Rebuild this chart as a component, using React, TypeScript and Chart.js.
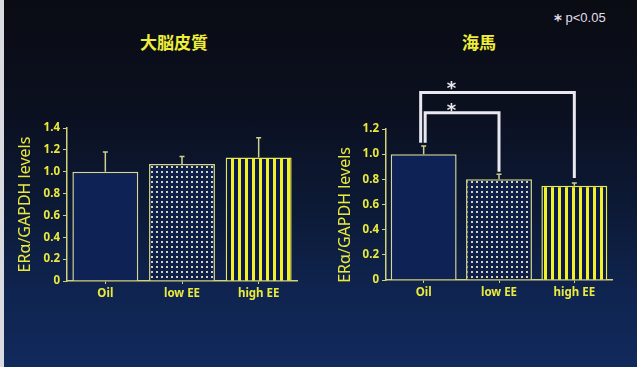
import React, { useEffect, useRef } from 'react';
import { Chart, registerables } from 'chart.js';

Chart.register(...registerables);

// Treatment groups shared by both panels
const groups = ['Oil', 'low EE', 'high EE'];

// 大脳皮質 (cerebral cortex): mean and upper SE per group
const cortexMeans = [1.0, 1.07, 1.13];
const cortexErrors = [0.18, 0.07, 0.18];
const cortexMax = 1.4;

// 海馬 (hippocampus): mean and upper SE per group
const hippoMeans = [1.0, 0.8, 0.75];
const hippoErrors = [0.065, 0.04, 0.02];
const hippoMax = 1.2;

// Significance brackets in the hippocampus panel (group indices and y-values)
const bracketFrom = [0, 0];
const bracketTo = [2, 1];
const bracketTop = [1.49, 1.33];
const bracketFromEnd = [1.09, 1.09];
const bracketToEnd = [0.81, 0.86];
const starLevels = [1.56, 1.39];
const starGroupPos = 0.37;

const tickStep = 0.2;
const yTitle = 'ERα/GAPDH levels';
const cortexTitle = '大脳皮質';
const hippoTitle = '海馬';
const noteText = 'p<0.05';

const YELLOW = '#eaea3e';
const AXIS = '#d2d27a';
const NAVY = '#0e2256';
const WHITE_LINE = '#e9e8ef';

function dotPattern(ctx: CanvasRenderingContext2D) {
  const c = document.createElement('canvas');
  c.width = 5;
  c.height = 5;
  const g = c.getContext('2d')!;
  g.fillStyle = '#0f1f4c';
  g.fillRect(0, 0, 5, 5);
  g.fillStyle = '#d4d4b0';
  g.fillRect(1, 1, 2, 2);
  return ctx.createPattern(c, 'repeat')!;
}

function stripePattern(ctx: CanvasRenderingContext2D) {
  const c = document.createElement('canvas');
  c.width = 7;
  c.height = 4;
  const g = c.getContext('2d')!;
  g.fillStyle = '#0b1a4a';
  g.fillRect(0, 0, 7, 4);
  g.fillStyle = '#f2f026';
  g.fillRect(0, 0, 3, 4);
  return ctx.createPattern(c, 'repeat')!;
}

// Upward-only error bars with a short cap
const errorBarPlugin = {
  id: 'errorBars',
  afterDatasetsDraw(chart: any, _args: any, opts: any) {
    const { ctx, scales } = chart;
    const y = scales.y;
    const meta = chart.getDatasetMeta(0);
    const values = chart.data.datasets[0].data as number[];
    ctx.save();
    ctx.strokeStyle = opts.color;
    ctx.lineWidth = opts.width;
    (opts.errors as number[]).forEach((err, i) => {
      const cx = meta.data[i].x;
      const y0 = y.getPixelForValue(values[i]);
      const y1 = y.getPixelForValue(values[i] + err);
      ctx.beginPath();
      ctx.moveTo(cx, y0);
      ctx.lineTo(cx, y1);
      ctx.moveTo(cx - opts.cap / 2, y1);
      ctx.lineTo(cx + opts.cap / 2, y1);
      ctx.stroke();
    });
    ctx.restore();
  },
};

// Comparison brackets with asterisks above the bars
const bracketPlugin = {
  id: 'brackets',
  afterDraw(chart: any, _args: any, opts: any) {
    const { ctx, scales } = chart;
    const { x, y } = scales;
    ctx.save();
    ctx.strokeStyle = WHITE_LINE;
    ctx.fillStyle = WHITE_LINE;
    ctx.lineWidth = 3;
    ctx.lineJoin = 'miter';
    ctx.lineCap = 'butt';
    ctx.font = 'bold 18px "DejaVu Sans"';
    ctx.textAlign = 'center';
    ctx.textBaseline = 'alphabetic';
    bracketFrom.forEach((f, i) => {
      const x1 = x.getPixelForValue(f) + opts.legNudge[i];
      const x2 = x.getPixelForValue(bracketTo[i]);
      const yTop = y.getPixelForValue(bracketTop[i]);
      ctx.beginPath();
      ctx.moveTo(x1, y.getPixelForValue(bracketFromEnd[i]));
      ctx.lineTo(x1, yTop);
      ctx.lineTo(x2, yTop);
      ctx.lineTo(x2, y.getPixelForValue(bracketToEnd[i]));
      ctx.stroke();
      ctx.fillText('*', x.getPixelForValue(starGroupPos), y.getPixelForValue(starLevels[i]) + 10.5);
    });
    ctx.restore();
  },
};

function makeConfig(
  ctx: CanvasRenderingContext2D,
  means: number[],
  errors: number[],
  max: number,
  padding: any,
  axisWidth: number,
  barPct: number,
  title: string,
  extraPlugins: any[],
  extraOptions: any
): any {
  const family = '"Noto Sans", "DejaVu Sans", sans-serif';
  return {
    type: 'bar',
    data: {
      labels: groups,
      datasets: [
        {
          data: means,
          backgroundColor: [NAVY, dotPattern(ctx), stripePattern(ctx)],
          borderColor: ['#d6d69a', '#d6d68a', '#e8e850'],
          borderWidth: 1.5,
          barPercentage: barPct,
          categoryPercentage: 1,
        },
      ],
    },
    plugins: [errorBarPlugin, ...extraPlugins],
    options: {
      animation: false,
      responsive: false,
      devicePixelRatio: 1,
      layout: { padding },
      plugins: {
        legend: { display: false },
        tooltip: { enabled: false },
        title: { display: false },
        errorBars: { errors, color: '#cfcf8e', width: 1.5, cap: 5 },
        ...extraOptions,
      },
      scales: {
        x: {
          grid: {
            display: true,
            drawOnChartArea: false,
            drawTicks: true,
            tickLength: 3,
            color: AXIS,
            offset: false,
          },
          border: { display: true, color: AXIS, width: 1.5 },
          ticks: { color: YELLOW, font: { family, size: 11.5, weight: 'bold' }, padding: 3 },
          afterFit: (s: any) => {
            s.height = 30;
          },
        },
        y: {
          min: 0,
          max,
          grid: { display: true, drawOnChartArea: false, drawTicks: true, tickLength: 4, color: AXIS },
          border: { display: true, color: AXIS, width: 1.5 },
          ticks: {
            stepSize: tickStep,
            color: YELLOW,
            font: { family, size: 11.5, weight: 'bold' },
            padding: 3,
            callback: (v: any) => (Number(v) === 0 ? '0' : Number(v).toFixed(1)),
          },
          title: {
            display: true,
            text: title,
            color: YELLOW,
            font: { family, size: 16 },
            padding: { top: 16, bottom: 0 },
          },
          afterFit: (s: any) => {
            s.width = axisWidth;
          },
        },
      },
    },
  };
}

export default function App() {
  const leftRef = useRef<HTMLCanvasElement>(null);
  const rightRef = useRef<HTMLCanvasElement>(null);

  useEffect(() => {
    document.body.style.margin = '0';
    const lctx = leftRef.current!.getContext('2d')!;
    const rctx = rightRef.current!.getContext('2d')!;
    const left = new Chart(
      lctx,
      makeConfig(lctx, cortexMeans, cortexErrors, cortexMax, { left: 0, right: 23, top: 128, bottom: 56 }, 67, 0.86, yTitle, [], {})
    );
    const right = new Chart(
      rctx,
      makeConfig(
        rctx,
        hippoMeans,
        hippoErrors,
        hippoMax,
        { left: 0, right: 25, top: 129, bottom: 57 },
        66,
        0.875,
        yTitle + '     ',
        [bracketPlugin],
        { brackets: { legNudge: [-3, 1.5] } }
      )
    );
    return () => {
      left.destroy();
      right.destroy();
    };
  }, []);

  const titleStyle: React.CSSProperties = {
    position: 'absolute',
    top: 30,
    width: 120,
    textAlign: 'center',
    color: '#eeee3a',
    fontFamily: '"Noto Sans CJK JP", sans-serif',
    fontWeight: 700,
    fontSize: 17,
    lineHeight: '24px',
  };

  return (
    <div
      style={{
        position: 'fixed',
        left: 0,
        top: 0,
        width: 637,
        height: 367,
        overflow: 'hidden',
        background:
          'linear-gradient(180deg, #0a0c13 0%, #0b1020 30%, #0c1934 55%, #0f2450 80%, #112a5c 100%)',
      }}
    >
      <div style={{ position: 'absolute', left: 0, top: 0, width: 4, height: 367, background: '#d9dbe0' }} />
      <div style={{ ...titleStyle, left: 174 - 60 }}>{cortexTitle}</div>
      <div style={{ ...titleStyle, left: 479 - 60 }}>{hippoTitle}</div>
      <div
        style={{
          position: 'absolute',
          left: 554,
          top: 8,
          color: '#e2dfea',
          fontFamily: '"Liberation Sans", Arial, sans-serif',
          fontSize: 13,
          lineHeight: '18px',
          whiteSpace: 'nowrap',
        }}
      >
        <span style={{ fontFamily: '"DejaVu Sans"', fontWeight: 700, fontSize: 15, position: 'relative', top: 4 }}>*</span>{' '}
        {noteText}
      </div>
      <canvas ref={leftRef} width={320} height={367} style={{ position: 'absolute', left: 0, top: 0 }} />
      <canvas ref={rightRef} width={317} height={367} style={{ position: 'absolute', left: 320, top: 0 }} />
    </div>
  );
}
